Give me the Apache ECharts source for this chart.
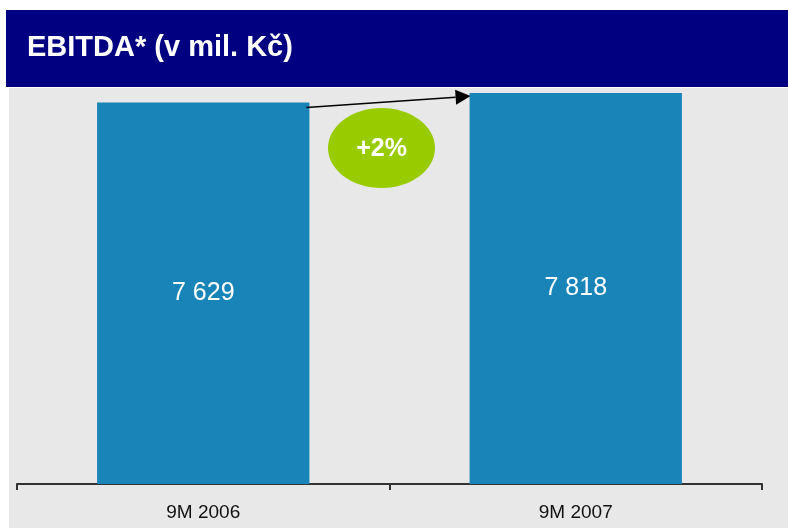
<!DOCTYPE html>
<html>
<head>
<meta charset="utf-8">
<script src="https://cdn.jsdelivr.net/npm/echarts@6/dist/echarts.min.js"></script>
<style>
html,body{margin:0;padding:0;background:#fff;}
#chart{width:788px;height:528px;}
</style>
</head>
<body>
<div id="chart"></div>
<script>
const titleText = 'EBITDA* (v mil. Kč)';
const categories = ['9M 2006', '9M 2007'];
const values = [7629, 7818];
const valueLabels = ['7 629', '7 818'];
const changeLabel = '+2%';

const chart = echarts.init(document.getElementById('chart'), null, {renderer: 'canvas'});

const titleFont = 'bold 29px "Liberation Sans", Arial';
const baseGraphics = [
  {type: 'rect', z: -10, shape: {x: 9, y: 88, width: 779, height: 440}, style: {fill: '#e8e8e8'}},
  {type: 'rect', z: 10, shape: {x: 6, y: 10, width: 782, height: 77}, style: {fill: '#000080'}},
  {type: 'text', z: 11, x: 27, y: 48, style: {text: titleText, fill: '#ffffff', font: titleFont, textVerticalAlign: 'middle'}}
];

const option = {
  animation: false,
  backgroundColor: '#ffffff',
  grid: {left: 17, right: 26, top: 84, bottom: 44},
  xAxis: {
    type: 'category',
    data: categories,
    axisLine: {show: true, lineStyle: {color: '#333333', width: 2}},
    axisTick: {show: true, alignWithLabel: false, length: 6, lineStyle: {color: '#333333', width: 2}},
    axisLabel: {color: '#111111', fontFamily: 'Liberation Sans Narrow, Liberation Sans, Arial', fontSize: 19, margin: 19}
  },
  yAxis: {
    type: 'value', min: 0, max: 8000, show: false, splitLine: {show: false}
  },
  series: [{
    type: 'bar',
    data: values,
    barCategoryGap: '43%',
    itemStyle: {color: '#1884b8'},
    label: {
      show: true, position: 'inside', color: '#ffffff',
      fontFamily: 'Liberation Sans, Arial', fontSize: 25,
      formatter: p => valueLabels[p.dataIndex]
    }
  }],
  graphic: baseGraphics
};
chart.setOption(option);

// annotation positions derived from the chart's own scales
const p0 = chart.convertToPixel({seriesIndex: 0}, [0, values[0]]);
const p1 = chart.convertToPixel({seriesIndex: 0}, [1, values[1]]);
const catW = (p1[0] - p0[0]);
const barW = catW * 0.57;
const start = [p0[0] + barW / 2 - 3, p0[1] + 5];
const tip = [p1[0] - barW / 2 + 1, p1[1] + 3];
const dx = tip[0] - start[0], dy = tip[1] - start[1];
const len = Math.sqrt(dx * dx + dy * dy);
const ux = dx / len, uy = dy / len;
const hl = 15, hw = 7.5;
const base = [tip[0] - hl * ux, tip[1] - hl * uy];
const headPts = [tip, [base[0] - hw * uy, base[1] + hw * ux], [base[0] + hw * uy, base[1] - hw * ux]];
const midX = (p0[0] + p1[0]) / 2 - 8;

chart.setOption({
  graphic: baseGraphics.concat([
    {type: 'line', z: 20, shape: {x1: start[0], y1: start[1], x2: base[0], y2: base[1]}, style: {stroke: '#000000', lineWidth: 1.5}},
    {type: 'polygon', z: 20, shape: {points: headPts}, style: {fill: '#000000'}},
    {type: 'ellipse', z: 20, shape: {cx: midX, cy: 148, rx: 53.5, ry: 40}, style: {fill: '#99cc00'}},
    {type: 'text', z: 21, x: midX, y: 149, style: {text: changeLabel, fill: '#ffffff', font: 'bold 25px "Liberation Sans", Arial', textAlign: 'center', textVerticalAlign: 'middle'}}
  ])
}, {replaceMerge: ['graphic']});
</script>
</body>
</html>
